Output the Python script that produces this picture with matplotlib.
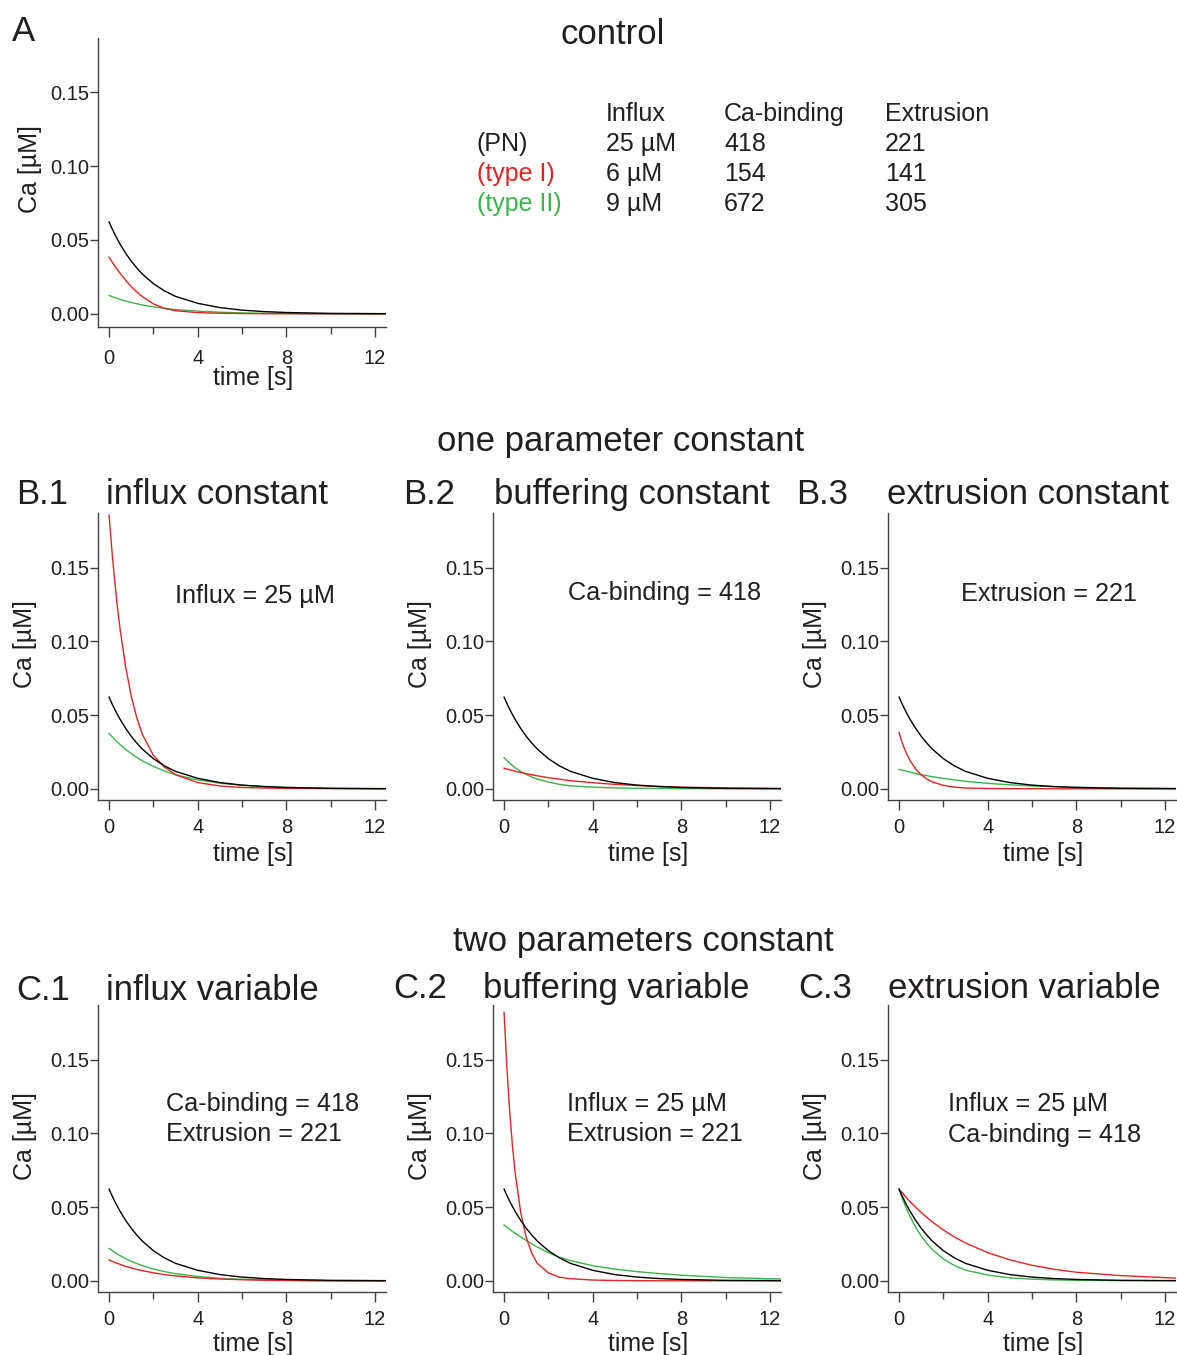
import matplotlib.pyplot as plt

plt.rcParams['font.family'] = ['Liberation Sans', 'DejaVu Sans']

INK = '#231f20'
RED = '#e52421'
GREEN = '#3ab54a'
AXC = '#404040'

# time points [s] and Ca traces [uM]
t_s = [0, 0.125, 0.25, 0.375, 0.5, 0.75, 1, 1.25, 1.5, 2, 2.5, 3, 4, 5, 6, 7, 8, 10, 12.5]

# PN (black) - same trace in every panel
pn_ctrl = [0.0622, 0.0580, 0.0541, 0.0505, 0.0471, 0.0410, 0.0357, 0.0311, 0.0270, 0.0205,
           0.0156, 0.0119, 0.0072, 0.0043, 0.0026, 0.0016, 0.0010, 0.0004, 0.0002]

# A control
a_type1 = [0.0383, 0.0354, 0.0327, 0.0300, 0.0275, 0.0228, 0.0185, 0.0149, 0.0118, 0.0068,
           0.0038, 0.0022, 0.0009, 0.0005, 0.0003, 0.0002, 0.0002, 0.0001, 0.0001]
a_type2 = [0.0125, 0.0118, 0.0111, 0.0105, 0.0099, 0.0087, 0.0078, 0.0069, 0.0061, 0.0048,
           0.0038, 0.0030, 0.0019, 0.0012, 0.0007, 0.0004, 0.0003, 0.0001, 0.0000]

# B.1 influx constant
b1_type1 = [0.1856, 0.1620, 0.1415, 0.1236, 0.1080, 0.0825, 0.0630, 0.0482, 0.0370, 0.0228,
            0.0148, 0.0097, 0.0043, 0.0020, 0.0010, 0.0006, 0.0004, 0.0002, 0.0001]
b1_type2 = [0.0377, 0.0356, 0.0337, 0.0318, 0.0300, 0.0268, 0.0239, 0.0214, 0.0191, 0.0152,
            0.0121, 0.0096, 0.0061, 0.0039, 0.0025, 0.0016, 0.0010, 0.0004, 0.0001]

# B.2 buffering constant
b2_type1 = [0.0140, 0.0135, 0.0130, 0.0125, 0.0120, 0.0112, 0.0103, 0.0096, 0.0089, 0.0076,
            0.0066, 0.0056, 0.0042, 0.0031, 0.0023, 0.0017, 0.0012, 0.0007, 0.0003]
b2_type2 = [0.0212, 0.0193, 0.0175, 0.0159, 0.0144, 0.0119, 0.0098, 0.0081, 0.0067, 0.0046,
            0.0031, 0.0021, 0.0012, 0.0007, 0.0004, 0.0003, 0.0002, 0.0001, 0.0001]

# B.3 extrusion constant
b3_type1 = [0.0382, 0.0321, 0.0270, 0.0227, 0.0191, 0.0135, 0.0095, 0.0067, 0.0048, 0.0024,
            0.0012, 0.0006, 0.0003, 0.0002, 0.0002, 0.0001, 0.0001, 0.0001, 0.0001]
b3_type2 = [0.0133, 0.0128, 0.0123, 0.0118, 0.0114, 0.0105, 0.0097, 0.0090, 0.0083, 0.0071,
            0.0061, 0.0052, 0.0038, 0.0028, 0.0020, 0.0015, 0.0011, 0.0006, 0.0003]

# C.1 influx variable
c1_type1 = [0.0142, 0.0134, 0.0126, 0.0119, 0.0112, 0.0099, 0.0088, 0.0078, 0.0070, 0.0055,
            0.0043, 0.0034, 0.0021, 0.0013, 0.0008, 0.0005, 0.0003, 0.0001, 0.0000]
c1_type2 = [0.0220, 0.0207, 0.0194, 0.0182, 0.0171, 0.0151, 0.0133, 0.0118, 0.0104, 0.0081,
            0.0063, 0.0049, 0.0030, 0.0018, 0.0011, 0.0007, 0.0004, 0.0001, 0.0000]

# C.2 buffering variable
c2_type1 = [0.1820, 0.1450, 0.1155, 0.0920, 0.0733, 0.0465, 0.0295, 0.0187, 0.0119, 0.0055,
            0.0025, 0.0015, 0.0006, 0.0003, 0.0002, 0.0001, 0.0001, 0.0001, 0.0001]
c2_type2 = [0.0379, 0.0364, 0.0350, 0.0336, 0.0323, 0.0298, 0.0275, 0.0252, 0.0230, 0.0191,
            0.0161, 0.0138, 0.0103, 0.0080, 0.0063, 0.0050, 0.0039, 0.0023, 0.0013]

# C.3 extrusion variable
c3_type1 = [0.0622, 0.0600, 0.0578, 0.0557, 0.0537, 0.0499, 0.0464, 0.0431, 0.0400, 0.0345,
            0.0298, 0.0257, 0.0192, 0.0143, 0.0106, 0.0079, 0.0059, 0.0036, 0.0019]
c3_type2 = [0.0622, 0.0569, 0.0520, 0.0476, 0.0435, 0.0364, 0.0304, 0.0255, 0.0213, 0.0149,
            0.0104, 0.0073, 0.0040, 0.0021, 0.0012, 0.0007, 0.0004, 0.0002, 0.0001]

table_head = ['Influx', 'Ca-binding', 'Extrusion']
table_rows = ['(PN)', '(type I)', '(type II)']
table_vals = [['25 µM', '418', '221'],
              ['6 µM', '154', '141'],
              ['9 µM', '672', '305']]

W, H = 1177, 1355
fig = plt.figure(figsize=(W / 100, H / 100), dpi=100)


def txt(x, y, s, size, color=INK, ha='left'):
    fig.text(x / W, 1 - y / H, s, fontsize=size, color=color, ha=ha, va='baseline')


def panel(left, top, bottom, ylim, red, green, ylab_x, xlab_y, xpad):
    ax = fig.add_axes([left / W, 1 - bottom / H, 288 / W, (bottom - top) / H])
    ax.plot(t_s, pn_ctrl, color='black', lw=1.0, zorder=3)
    ax.plot(t_s, green, color=GREEN, lw=1.0, zorder=2)
    ax.plot(t_s, red, color=RED, lw=1.0, zorder=2)
    ax.set_xlim(-0.5, 12.5)
    ax.set_ylim(*ylim)
    for s in ['top', 'right']:
        ax.spines[s].set_visible(False)
    for s in ['left', 'bottom']:
        ax.spines[s].set_color(AXC)
        ax.spines[s].set_linewidth(1.0)
    ax.set_yticks([0, 0.05, 0.10, 0.15])
    ax.set_yticklabels(['0.00', '0.05', '0.10', '0.15'])
    ax.set_xticks([0, 4, 8, 12])
    ax.set_xticklabels(['0', '4', '8', '12'])
    ax.set_xticks([2, 6, 10], minor=True)
    ax.tick_params(axis='y', direction='out', length=5.8, width=1.0, color=AXC,
                   labelsize=14.5, labelcolor=INK, pad=0.5)
    ax.tick_params(axis='x', which='major', direction='out', length=7.2, width=1.0,
                   color=AXC, labelsize=14.5, labelcolor=INK, pad=xpad)
    ax.tick_params(axis='x', which='minor', direction='out', length=5, width=1.0, color=AXC)
    ax.set_ylabel('Ca [µM]', fontsize=18, color=INK)
    ax.set_xlabel('time [s]', fontsize=18, color=INK)
    ax.yaxis.set_label_coords(ylab_x, 0.545)
    ax.xaxis.set_label_coords(0.538, xlab_y)
    return ax


cols = [98, 493, 888]
ylim_a = (-0.0088, 0.1865)
ylim_bc = (-0.0075, 0.187)

panel(cols[0], 38, 327, ylim_a, a_type1, a_type2, -0.196, -0.136, 9)
panel(cols[0], 513, 800, ylim_bc, b1_type1, b1_type2, -0.213, -0.146, 6)
panel(cols[1], 513, 800, ylim_bc, b2_type1, b2_type2, -0.213, -0.146, 6)
panel(cols[2], 513, 800, ylim_bc, b3_type1, b3_type2, -0.213, -0.146, 6)
panel(cols[0], 1005, 1292, ylim_bc, c1_type1, c1_type2, -0.213, -0.138, 6)
panel(cols[1], 1005, 1292, ylim_bc, c2_type1, c2_type2, -0.213, -0.138, 6)
panel(cols[2], 1005, 1292, ylim_bc, c3_type1, c3_type2, -0.213, -0.138, 6)

# headings
BIG = 25
txt(12, 41, 'A', BIG)
txt(613, 44, 'control', BIG, ha='center')
txt(621, 451, 'one parameter constant', BIG, ha='center')
txt(643, 951, 'two parameters constant', BIG, ha='center')

txt(16, 504, 'B.1', BIG)
txt(106, 504, 'influx constant', BIG)
txt(403, 504, 'B.2', BIG)
txt(494, 504, 'buffering constant', BIG)
txt(796, 504, 'B.3', BIG)
txt(887, 504, 'extrusion constant', BIG)

txt(16, 1000, 'C.1', BIG)
txt(106, 1000, 'influx variable', BIG)
txt(393, 998, 'C.2', BIG)
txt(483, 998, 'buffering variable', BIG)
txt(798, 998, 'C.3', BIG)
txt(888, 998, 'extrusion variable', BIG)

# parameter table
col_x = [606, 724, 885]
row_y = [151, 181, 211]
row_c = [INK, RED, GREEN]
for x, h in zip(col_x, table_head):
    txt(x, 121, h, 18)
for y, name, c, vals in zip(row_y, table_rows, row_c, table_vals):
    txt(477, y, name, 18, color=c)
    for x, v in zip(col_x, vals):
        txt(x, y, v, 18)

# annotations inside panels
ANN = 18.2
txt(175, 603, 'Influx = 25 µM', ANN)
txt(568, 600, 'Ca-binding = 418', ANN)
txt(961, 601, 'Extrusion = 221', ANN)
txt(166, 1111, 'Ca-binding = 418', ANN)
txt(166, 1141, 'Extrusion = 221', ANN)
txt(567, 1111, 'Influx = 25 µM', ANN)
txt(567, 1141, 'Extrusion = 221', ANN)
txt(948, 1111, 'Influx = 25 µM', ANN)
txt(948, 1142, 'Ca-binding = 418', ANN)

fig.savefig('out.png', dpi=100)
